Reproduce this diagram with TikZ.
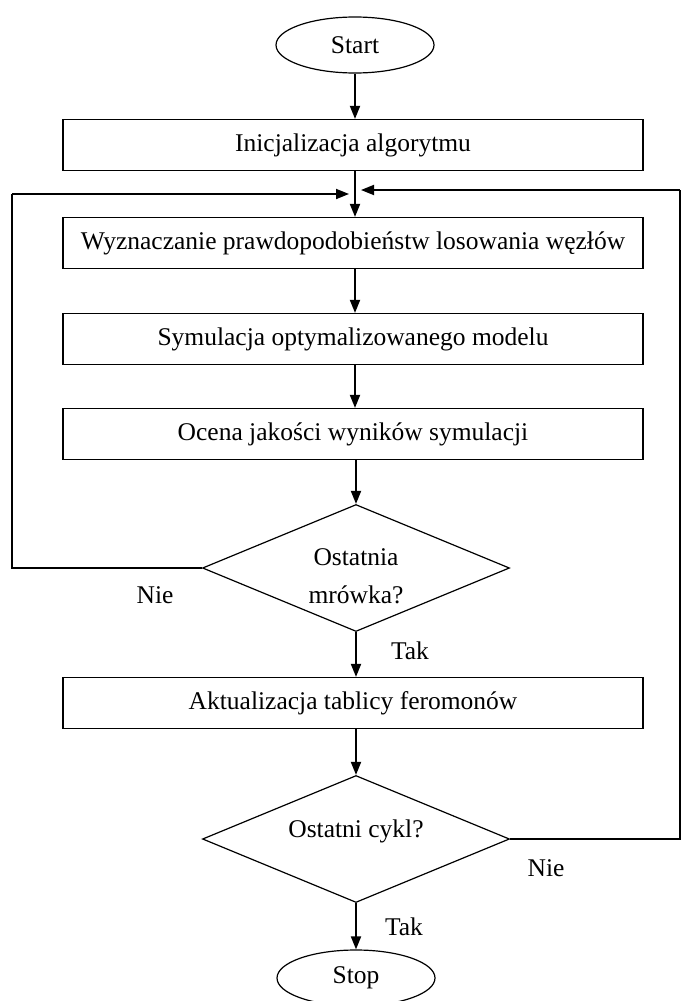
\documentclass[tikz,border=0pt]{standalone}
\usepackage{fontspec}
\setmainfont{Liberation Serif}
\usetikzlibrary{shapes.geometric,arrows.meta}
\begin{document}
\begin{tikzpicture}[x=1pt,y=-1pt,
  txt/.style={font=\fontsize{25.5}{38}\selectfont},
  box/.style={txt,draw,line width=1.2pt,minimum width=580pt,minimum height=51pt,inner sep=0pt},
  term/.style={txt,draw,ellipse,line width=1.2pt,minimum width=158pt,minimum height=56pt,inner sep=0pt},
  dec/.style={draw,diamond,line width=1.2pt,minimum width=307pt,minimum height=127pt,inner sep=0pt,aspect=2.4},
  dectext/.style={txt,align=center,inner sep=0pt},
  flow/.style={line width=1.8pt,-{Triangle[length=13pt,width=10pt]}},
  link/.style={line width=1.8pt},
  lbl/.style={txt,inner sep=0pt}
  ]
\useasboundingbox (0,0) rectangle (682,1001);
\node[term] (start) at (355,45) {Start};
\node[box] (b1) at (353,145) {Inicjalizacja algorytmu};
\node[box] (b2) at (353,243) {Wyznaczanie prawdopodobieństw losowania węzłów};
\node[box] (b3) at (353,339) {Symulacja optymalizowanego modelu};
\node[box] (b4) at (353,434) {Ocena jakości wyników symulacji};
\node[dec] (d1) at (356,568) {};
\node[dectext] (d1t) at (356,576) {Ostatnia\\mrówka?};
\node[box] (b5) at (353,703) {Aktualizacja tablicy feromonów};
\node[dec] (d2) at (356,839) {};
\node[dectext] (d2t) at (356,831) {Ostatni cykl?};
\node[term] (stop) at (356,978) {Stop};

\coordinate (jl) at (349,194);
\coordinate (jr) at (361,190);
\coordinate (cl1) at (12,568);
\coordinate (cl2) at (12,194);
\coordinate (cr1) at (680,839);
\coordinate (cr2) at (680,190);

\draw[flow] (start.south -| 355,0) -- (b1.north -| 355,0);
\draw[flow] (b1.south -| 355,0) -- (b2.north -| 355,0);
\draw[flow] (b2.south -| 355,0) -- (b3.north -| 355,0);
\draw[flow] (b3.south -| 355,0) -- (b4.north -| 355,0);
\draw[flow] (b4.south -| d1.north) -- (d1.north);
\draw[flow] (d1.south) -- (b5.north -| d1.south);
\draw[flow] (b5.south -| d2.north) -- (d2.north);
\draw[flow] (d2.south) -- (stop.north);

\draw[link] (d1.west) -- (cl1) -- (cl2);
\draw[flow] (cl2) -- (jl);
\draw[link] (d2.east) -- (cr1) -- (cr2);
\draw[flow] (cr2) -- (jr);

\node[lbl] (n1) at (155,595) {Nie};
\node[lbl] (t1) at (410,651) {Tak};
\node[lbl] (n2) at (546,868) {Nie};
\node[lbl] (t2) at (404,927) {Tak};
\end{tikzpicture}
\end{document}
